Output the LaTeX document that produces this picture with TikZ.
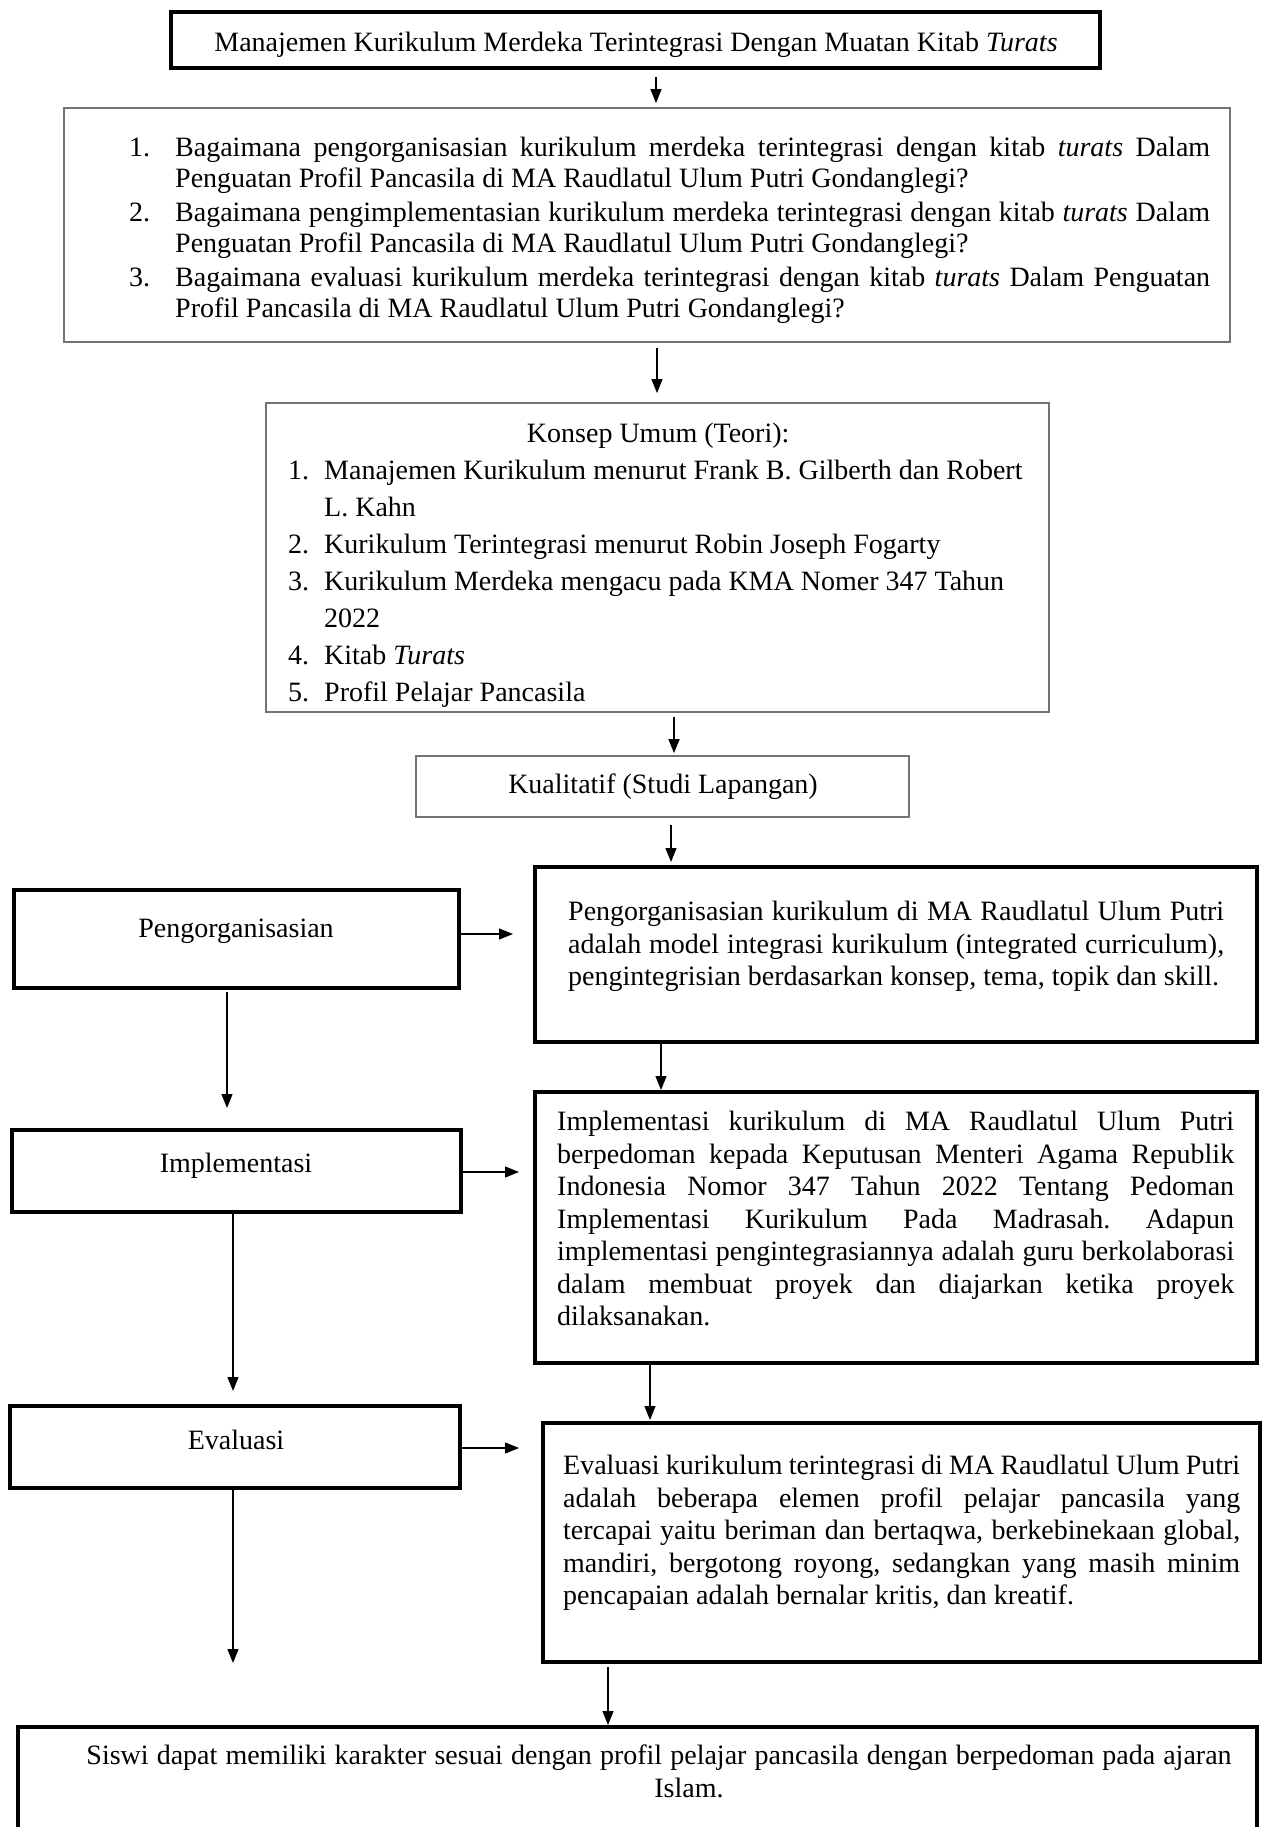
\documentclass[tikz,border=0pt]{standalone}
\usepackage{fontspec}
\setmainfont{Liberation Serif}
\usepackage{tikz}
\usetikzlibrary{calc,arrows.meta}
\definecolor{boxgray}{gray}{0.45}
\hyphenpenalty=10000
\exhyphenpenalty=10000
\frenchspacing
\newcommand{\butir}[2]{\hangindent=#1\hangafter=1\noindent\makebox[#1][l]{#2}}
\tikzset{
	thickbox/.style={draw=black, line width=4pt, inner sep=0pt},
	thinbox/.style={draw=boxgray, line width=1.8pt, inner sep=0pt},
	arr/.style={-{Triangle[length=14pt,width=11pt]}, line width=1.3pt},
	txt/.style={inner sep=0pt, font={\fontsize{28}{32.5}\selectfont}},
}

\begin{document}
\begin{tikzpicture}[x=1pt, y=-1pt]
	%%%%% START %%%%%
	\useasboundingbox (0,0) rectangle (1262,1827);
	
	\node[thickbox, line width=4.5pt, minimum width=929pt, minimum height=56pt] (title) at (635.5, 40) {};
	\node[txt] (ttitle) at (636, 45) {Manajemen Kurikulum Merdeka Terintegrasi Dengan Muatan Kitab \textit{Turats}};
	
	\node[thinbox, minimum width=1166pt, minimum height=234pt] (quest) at (647, 225) {};
	\node[txt, anchor=north west, text width=1081pt, align=justify, font={\fontsize{28}{31}\selectfont}] (tquest) at (129, 137) {\parskip=3pt\butir{46pt}{1.}Bagaimana pengorganisasian kurikulum merdeka terintegrasi dengan kitab \textit{turats} Dalam\linebreak Penguatan Profil Pancasila di MA Raudlatul Ulum Putri Gondanglegi?\par
		\butir{46pt}{2.}Bagaimana pengimplementasian kurikulum merdeka terintegrasi dengan kitab \textit{turats} Dalam\linebreak Penguatan Profil Pancasila di MA Raudlatul Ulum Putri Gondanglegi?\par
		\butir{46pt}{3.}Bagaimana evaluasi kurikulum merdeka terintegrasi dengan kitab \textit{turats} Dalam Penguatan\linebreak Profil Pancasila di MA Raudlatul Ulum Putri Gondanglegi?\par};
	
	\node[thinbox, minimum width=783pt, minimum height=309pt] (concept) at (657.5, 557.5) {};
	\node[txt, anchor=north west, text width=740pt, align=justify, font={\fontsize{28}{37}\selectfont}] (tconcept) at (288, 423) {\raggedright{\centering Konsep Umum (Teori):\par}
		\butir{36pt}{1.}Manajemen Kurikulum menurut Frank B. Gilberth dan Robert\newline L. Kahn\par
		\butir{36pt}{2.}Kurikulum Terintegrasi menurut Robin Joseph Fogarty\par
		\butir{36pt}{3.}Kurikulum Merdeka mengacu pada KMA Nomer 347 Tahun\newline 2022\par
		\butir{36pt}{4.}Kitab \textit{Turats}\par
		\butir{36pt}{5.}Profil Pelajar Pancasila\par};
	
	\node[thinbox, minimum width=493pt, minimum height=61pt] (method) at (662.5, 786.5) {};
	\node[txt] (tmethod) at (663, 787) {Kualitatif (Studi Lapangan)};
	
	% left column
	\node[thickbox, minimum width=445pt, minimum height=98pt] (lorg) at (236.5, 939) {};
	\node[txt] (tlorg) at (236, 931) {Pengorganisasian};
	\node[thickbox, minimum width=449pt, minimum height=82pt] (limpl) at (236.5, 1171) {};
	\node[txt] (tlimpl) at (236, 1166) {Implementasi};
	\node[thickbox, minimum width=450pt, minimum height=82pt] (leval) at (235, 1447) {};
	\node[txt] (tleval) at (236, 1440) {Evaluasi};
	\coordinate (evend) at (233, 1663);
	
	% right column
	\node[thickbox, minimum width=722pt, minimum height=175pt] (rorg) at (896, 954.5) {};
	\node[txt, anchor=north west, text width=656pt, align=justify] (trorg) at (568, 901) {Pengorganisasian kurikulum di MA Raudlatul Ulum Putri\linebreak adalah model integrasi kurikulum (integrated curriculum),\linebreak pengintegrisian berdasarkan konsep, tema, topik dan skill.};
	
	\node[thickbox, minimum width=722pt, minimum height=271pt] (rimpl) at (896, 1227.5) {};
	\node[txt, anchor=north west, text width=677pt, align=justify] (trimpl) at (557, 1111) {Implementasi kurikulum di MA Raudlatul Ulum Putri\linebreak berpedoman kepada Keputusan Menteri Agama Republik\linebreak Indonesia Nomor 347 Tahun 2022 Tentang Pedoman\linebreak Implementasi Kurikulum Pada Madrasah. Adapun\linebreak implementasi pengintegrasiannya adalah guru berkolaborasi\linebreak dalam membuat proyek dan diajarkan ketika proyek\linebreak dilaksanakan.};
	
	\node[thickbox, minimum width=717pt, minimum height=239pt] (reval) at (901.5, 1542.5) {};
	\node[txt, anchor=north west, text width=677pt, align=justify] (treval) at (563, 1455) {Evaluasi kurikulum terintegrasi di MA Raudlatul Ulum Putri\linebreak adalah beberapa elemen profil pelajar pancasila yang\linebreak tercapai yaitu beriman dan bertaqwa, berkebinekaan global,\linebreak mandiri, bergotong royong, sedangkan yang masih minim\linebreak pencapaian adalah bernalar kritis, dan kreatif.};
	
	\node[thickbox, minimum width=1239pt, minimum height=143pt] (result) at (637.5, 1798.5) {};
	\node[txt, anchor=north, text width=1180pt, align=center] (tresult) at (659, 1745) {\spaceskip=0pt\xspaceskip=0pt Siswi dapat memiliki karakter sesuai dengan profil pelajar pancasila dengan berpedoman pada ajaran\\ \hspace*{60pt}Islam.};
	
	% arrows, middle
	\draw[arr, shorten <=7pt, shorten >=4pt] ($(title.south)+(20.5,0)$) -- ($(quest.north)+(9,0)$);
	\draw[arr, shorten <=5pt, shorten >=9pt] ($(quest.south)+(10,0)$) -- ($(concept.north)+(-0.5,0)$);
	\draw[arr, shorten <=4pt, shorten >=2pt] ($(concept.south)+(16.5,0)$) -- ($(method.north)+(11.5,0)$);
	\draw[arr, shorten <=7pt, shorten >=3pt] ($(method.south)+(8.5,0)$) -- ($(rorg.north)+(-225,0)$);
	
	% arrows, right column
	\draw[arr] ($(rorg.south)+(-235,0)$) -- ($(rimpl.north)+(-235,0)$);
	\draw[arr, shorten >=1pt] ($(rimpl.south)+(-246,0)$) -- ($(reval.north)+(-251.5,0)$);
	\draw[arr, shorten <=3pt] ($(reval.south)+(-293.5,0)$) -- ($(result.north)+(-29.5,0)$);
	
	% arrows, left column
	\draw[arr, shorten <=2pt, shorten >=20pt] ($(lorg.south)+(-9.5,0)$) -- ($(limpl.north)+(-9.5,0)$);
	\draw[arr, shorten >=13pt] ($(limpl.south)+(-3.5,0)$) -- ($(leval.north)+(-2,0)$);
	\draw[arr] ($(leval.south)+(-2,0)$) -- (evend);
	
	% arrows, left to right
	\draw[arr, shorten >=20pt] ($(lorg.east)+(0,-5)$) -- ($(rorg.west)+(0,-20.5)$);
	\draw[arr, shorten >=14pt] ($(limpl.east)+(0,1)$) -- ($(rimpl.west)+(0,-55.5)$);
	\draw[arr, shorten >=22pt] ($(leval.east)+(0,1)$) -- ($(reval.west)+(0,-94.5)$);
	
	%%%%% END %%%%%
\end{tikzpicture}
\end{document}
